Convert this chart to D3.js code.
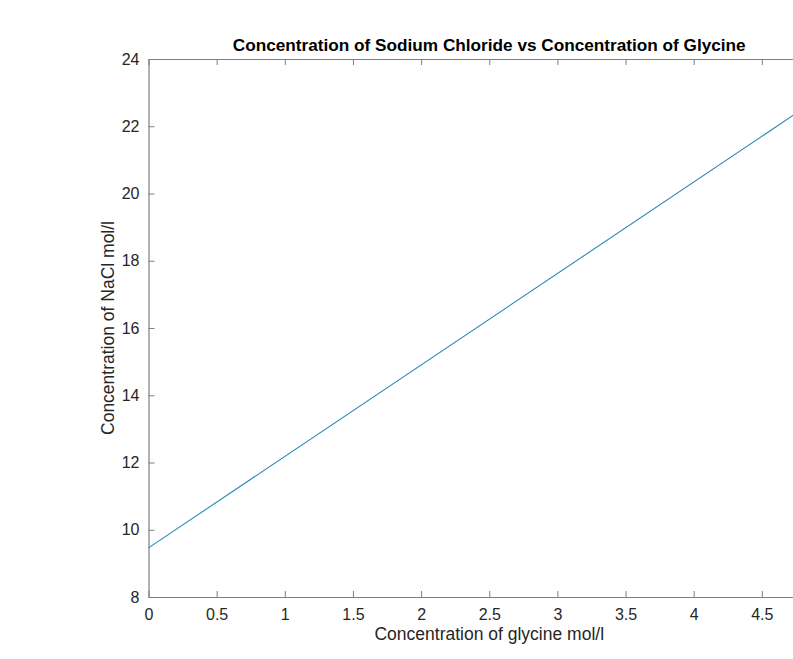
<!DOCTYPE html>
<html>
<head>
<meta charset="utf-8">
<script src="https://cdn.jsdelivr.net/npm/d3@7"></script>
<style>
  body { margin: 0; background: #fff; overflow: hidden; }
  svg { display: block; font-family: "Liberation Sans", Arial, Helvetica, sans-serif; }
</style>
</head>
<body>
<svg id="viz"></svg>
<script>
// line data (glycine mol/l -> NaCl mol/l)
const glycine = [0, 5]
const nacl = [9.46, 23.06]

// the 5 tick sits past the right edge of the picture, so it is not listed
const xTicks = [0, 0.5, 1, 1.5, 2, 2.5, 3, 3.5, 4, 4.5]
const yTicks = [8, 10, 12, 14, 16, 18, 20, 22, 24]

const titleText = "Concentration of Sodium Chloride vs Concentration of Glycine"
const xLabel = "Concentration of glycine mol/l"
const yLabel = "Concentration of NaCl mol/l"

const width = 793
const height = 659
// axes box runs past the right edge of the picture (cropped)
const margin = {top: 59, right: -37, bottom: 62, left: 148.5}

const axisColor = "#7f7f7f"
const textColor = "#262626"

const svg = d3.select("#viz")
    .attr("width", width)
    .attr("height", height)

const x = d3.scaleLinear()
    .domain([0, 5])
    .range([margin.left, width - margin.right])

const y = d3.scaleLinear()
    .domain([8, 24])
    .range([height - margin.bottom, margin.top])

const tickLen = 6

const xAxis = g => g
    .attr("transform", `translate(0,${y(8)})`)
    .call(d3.axisBottom(x).tickValues(xTicks).tickSizeInner(-tickLen).tickSizeOuter(0).tickPadding(12).tickFormat(d3.format("")))

const xAxisTop = g => g
    .attr("transform", `translate(0,${y(24)})`)
    .call(d3.axisTop(x).tickValues(xTicks).tickSizeInner(-tickLen).tickSizeOuter(0).tickFormat(""))

const yAxis = g => g
    .attr("transform", `translate(${x(0)},0)`)
    .call(d3.axisLeft(y).tickValues(yTicks).tickSizeInner(-tickLen).tickSizeOuter(0).tickPadding(9))

const styleAxis = g => {
    g.select(".domain").attr("stroke", axisColor).attr("stroke-width", 1.2)
    g.selectAll(".tick line").attr("stroke", axisColor)
    g.selectAll(".tick text").attr("fill", textColor).attr("font-size", 16)
        .attr("font-family", "Liberation Sans, Arial, sans-serif")
}

svg.append("g").call(xAxis).call(styleAxis)
svg.append("g").call(xAxisTop).call(styleAxis)
svg.append("g").call(yAxis).call(styleAxis)

const line = d3.line()
    .x(d => x(d[0]))
    .y(d => y(d[1]))

svg.append("path")
    .datum(glycine.map((g, i) => [g, nacl[i]]))
    .attr("fill", "none")
    .attr("stroke", "#2a86b8")
    .attr("stroke-width", 1.1)
    .attr("d", line)

const midX = (x(0) + x(5)) / 2

svg.append("text")
    .attr("x", midX)
    .attr("y", 51)
    .attr("text-anchor", "middle")
    .attr("font-weight", "bold")
    .attr("font-size", 17.2)
    .attr("fill", "#000")
    .text(titleText)

svg.append("text")
    .attr("x", midX)
    .attr("y", 640)
    .attr("text-anchor", "middle")
    .attr("font-size", 17.5)
    .attr("fill", textColor)
    .text(xLabel)

svg.append("text")
    .attr("transform", `translate(114,${(y(8) + y(24)) / 2}) rotate(-90)`)
    .attr("text-anchor", "middle")
    .attr("font-size", 17.5)
    .attr("fill", textColor)
    .text(yLabel)
</script>
</body>
</html>
